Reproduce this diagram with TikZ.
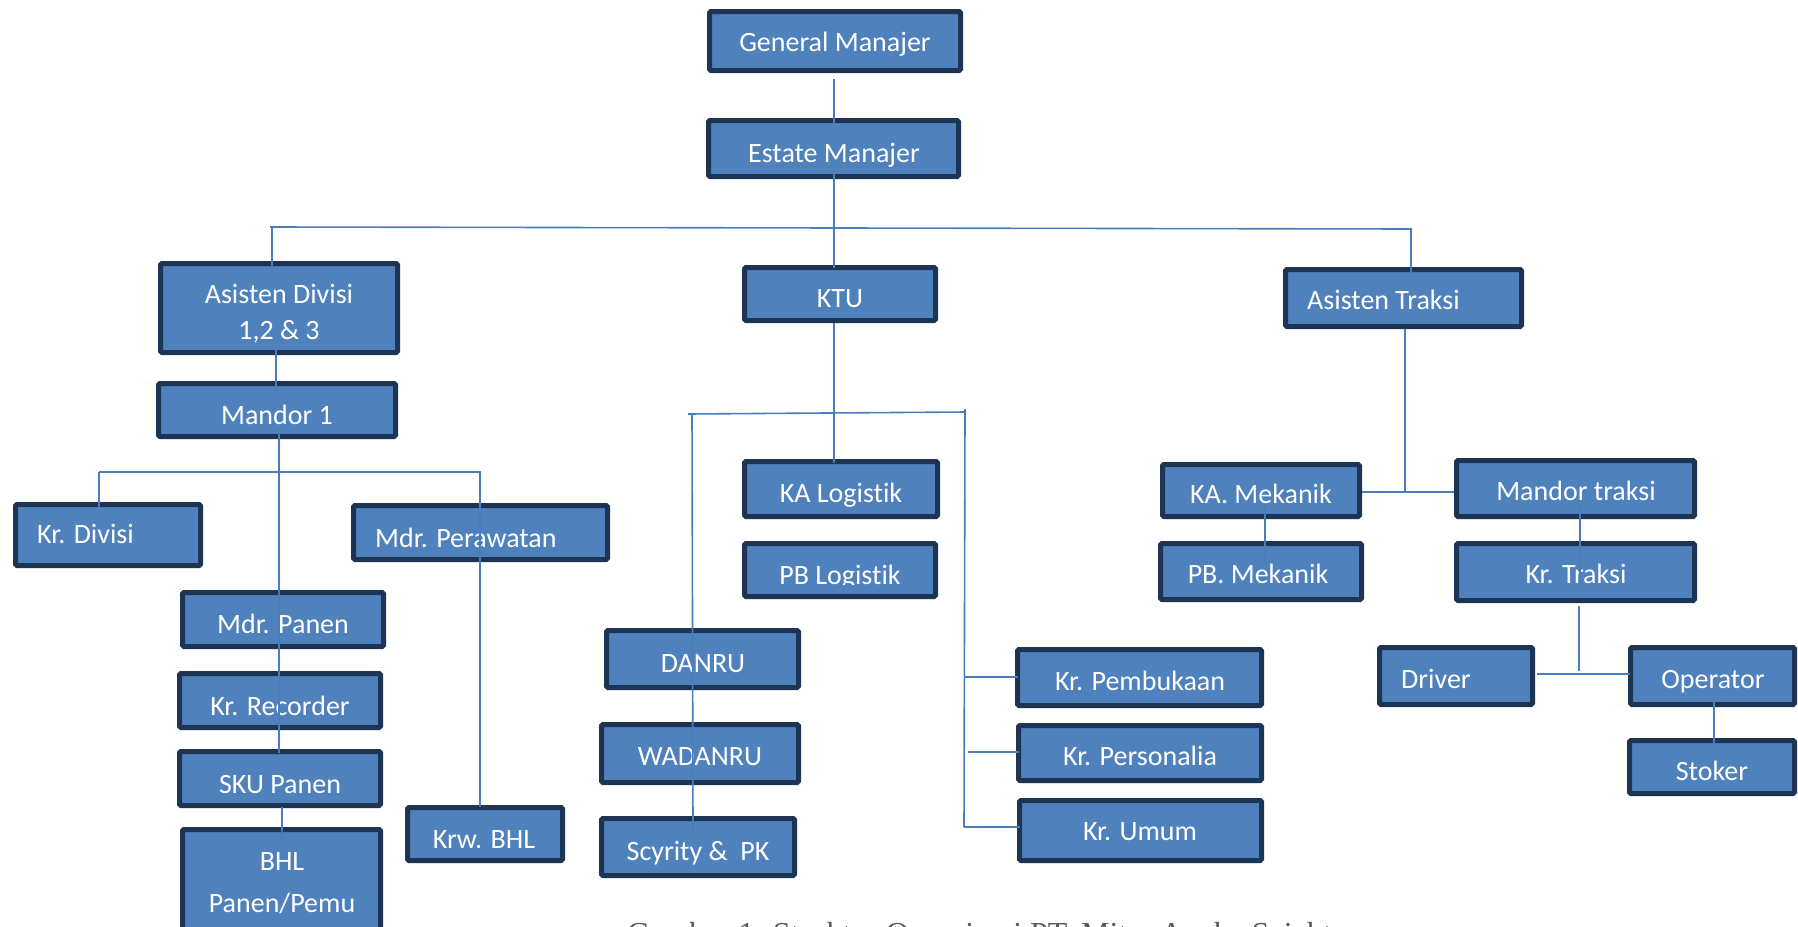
\documentclass[tikz,border=0pt]{standalone}
\usepackage{fontspec}
\setmainfont{Carlito}[Ligatures={NoCommon,NoRequired,NoContextual}]
\newfontfamily\capfont{Liberation Serif}
\definecolor{boxfill}{HTML}{4F81BD}
\definecolor{boxline}{HTML}{1D3553}
\definecolor{connc}{HTML}{4A7EBB}
\definecolor{capc}{HTML}{595959}
\tikzset{
  box/.style={draw=boxline, fill=boxfill, line width=5pt, rounded corners=1.5pt, inner sep=0pt, outer sep=0pt, rectangle},
  txt/.style={text=white, font=\fontsize{28}{34}\selectfont, inner sep=0pt, anchor=base},
  txtl/.style={txt, anchor=base west},
  conn/.style={draw=connc, line width=1.6pt}
}
% name, l, t, r, b
\newcommand\obox[5]{\node[box, minimum width={(#4-#2-5)*1pt}, minimum height={(#5-#3-5)*1pt}] (#1) at ({(#2+#4)/2},{(#3+#5)/2}) {};}
\begin{document}
\begin{tikzpicture}[x=1pt,y=-1pt]
\useasboundingbox (0,0) rectangle (1798,926);
% boxes
\obox{gm}{707}{9}{963}{73}
\obox{em}{706}{118}{961}{179}
\obox{ad}{158}{261}{400}{355}
\obox{ktu}{742}{265}{938}{323}
\obox{at}{1283}{267}{1524}{329}
\obox{mone}{156}{381}{398}{439}
\obox{kd}{13}{502}{203}{568}
\obox{mp}{351}{503}{610}{562}
\obox{mpn}{180}{590}{386}{649}
\obox{krr}{177}{671}{383}{730}
\obox{sku}{177}{749}{383}{808}
\obox{bhl}{180}{827}{383}{960}
\obox{kbhl}{405}{805}{565}{863}
\obox{kal}{742}{459}{940}{519}
\obox{pbl}{742}{541}{938}{599}
\obox{danru}{604}{628}{801}{690}
\obox{wad}{599}{722}{801}{785}
\obox{sec}{599}{816}{797}{878}
\obox{kpb}{1015}{647}{1264}{708}
\obox{kps}{1016}{723}{1264}{783}
\obox{kum}{1017}{798}{1264}{863}
\obox{kam}{1160}{462}{1362}{519}
\obox{mt}{1454}{458}{1697}{519}
\obox{pbm}{1158}{541}{1364}{602}
\obox{kt}{1454}{541}{1697}{603}
\obox{drv}{1377}{645}{1535}{707}
\obox{op}{1628}{645}{1797}{707}
\obox{stk}{1627}{738}{1797}{796}
% texts
\node[txt] (gmt) at (835,51) {General Manajer};
\node[txt] (emt) at (834,162) {Estate Manajer};
\node[txt] (adt1) at (279,303) {Asisten Divisi};
\node[txt] (adt2) at (279,339) {1,2 \& 3};
\node[txt] (ktut) at (840,307) {KTU};
\node[txtl] (att) at (1307,309) {Asisten Traksi};
\node[txt] (monet) at (277,424) {Mandor 1};
\node[txtl] (kdt) at (37,543) {Kr. Divisi};
\node[txtl] (mpt) at (375,547) {Mdr. Perawatan};
\node[txt] (mpnt) at (283,633) {Mdr. Panen};
\node[txt] (krrt) at (280,715) {Kr. Recorder};
\node[txt] (skut) at (280,793) {SKU Panen};
\node[txt] (bhlt1) at (282,870) {BHL};
\node[txt] (bhlt2) at (282,912) {Panen/Pemu};
\node[txt] (kbhlt) at (484,848) {Krw. BHL};
\node[txt] (kalt) at (841,502) {KA Logistik};
\begin{scope}
\clip (742,541) rectangle (940,584.5);
\node[txt] (pblt) at (840,584) {PB Logistik};
\end{scope}
\node[txt] (danrut) at (703,672) {DANRU};
\node[txt] (wadt) at (700,765) {WADANRU};
\node[txt] (sect) at (698,860) {Scyrity \&\ \ PK};
\node[txt] (kpbt) at (1140,690) {Kr. Pembukaan};
\node[txt] (kpst) at (1140,765) {Kr. Personalia};
\node[txt] (kumt) at (1140,840) {Kr. Umum};
\node[txt] (kamt) at (1261,503) {KA. Mekanik};
\node[txt] (mtt) at (1576,500) {Mandor traksi};
\node[txt] (pbmt) at (1258,583) {PB. Mekanik};
\node[txt] (ktt) at (1576,583) {Kr. Traksi};
\node[txtl] (drvt) at (1401,688) {Driver};
\node[txt] (opt) at (1713,688) {Operator};
\node[txt] (stkt) at (1712,780) {Stoker};
% caption (cut off by the page edge)
\node[anchor=base west, inner sep=0pt, text=capc, font=\capfont\fontsize{32}{38}\selectfont] (cap) at (627,944) {Gambar 1. Struktur Organisasi PT. Mitra Aneka Sejahtera};
% junction coordinates
\coordinate (c1a) at (834,79);   \coordinate (c1b) at (834,123);
\coordinate (c2a) at (834,170);  \coordinate (c2b) at (834,268);
\coordinate (hL) at (270,227);   \coordinate (hR) at (1412,229);
\coordinate (hLd) at (272,227);  \coordinate (adTop) at (272,266);
\coordinate (atTop) at (1411,272); \coordinate (hRd) at (1411,229);
\coordinate (c6a) at (276,347);  \coordinate (c6b) at (276,387);
\coordinate (c7a) at (279,433);  \coordinate (c7b) at (279,753);
\coordinate (c8a) at (282,807);  \coordinate (c8b) at (282,843);
\coordinate (mL) at (99,472);    \coordinate (mR) at (481,472);
\coordinate (kdTop) at (99,507); \coordinate (mRd) at (480,472);
\coordinate (kbhlTop) at (480,807);
\coordinate (c10a) at (834,323); \coordinate (c10b) at (834,463);
\coordinate (tL) at (688,414);   \coordinate (tR) at (966,412);
\coordinate (tLd) at (692,414);  \coordinate (secIn) at (693,832);
\coordinate (tRd) at (965,409);  \coordinate (rb) at (964,827);
\coordinate (rb1) at (964,677);  \coordinate (rb2) at (968,752);
\coordinate (c13a) at (1405,329); \coordinate (c13b) at (1405,492);
\coordinate (kamR) at (1362,492); \coordinate (mtL) at (1454,492);
\coordinate (c14a) at (1265,505); \coordinate (c14b) at (1265,563);
\coordinate (c15a) at (1580,507); \coordinate (c15b) at (1580,583);
\coordinate (c16a) at (1579,606); \coordinate (c16b) at (1579,671);
\coordinate (drvR) at (1537,674); \coordinate (opL) at (1630,674);
\coordinate (c17a) at (1714,693); \coordinate (c17b) at (1714,743);
% connectors
\draw[conn] (c1a) -- (c1b);
\draw[conn] (c2a) -- (c2b);
\draw[conn] (hL) -- (hR);
\draw[conn] (hLd) -- (adTop);
\draw[conn] (hRd) -- (atTop);
\draw[conn] (c6a) -- (c6b);
\draw[conn] (c7a) -- (c7b);
\draw[conn] (c8a) -- (c8b);
\draw[conn] (mL) -- (mR);
\draw[conn] (mL) -- (kdTop);
\draw[conn] (mRd) -- (kbhlTop);
\draw[conn] (c10a) -- (c10b);
\draw[conn] (tL) -- (tR);
\draw[conn] (tLd) -- (secIn);
\draw[conn] (tRd) -- (rb);
\draw[conn] (rb1) -- (kpb.west |- rb1);
\draw[conn] (rb2) -- (kps.west |- rb2);
\draw[conn] (rb) -- (kum.west |- rb);
\draw[conn] (c13a) -- (c13b);
\draw[conn] (kamR) -- (mtL);
\draw[conn] (c14a) -- (c14b);
\draw[conn] (c15a) -- (c15b);
\draw[conn] (c16a) -- (c16b);
\draw[conn] (drvR) -- (opL);
\draw[conn] (c17a) -- (c17b);
\end{tikzpicture}
\end{document}
